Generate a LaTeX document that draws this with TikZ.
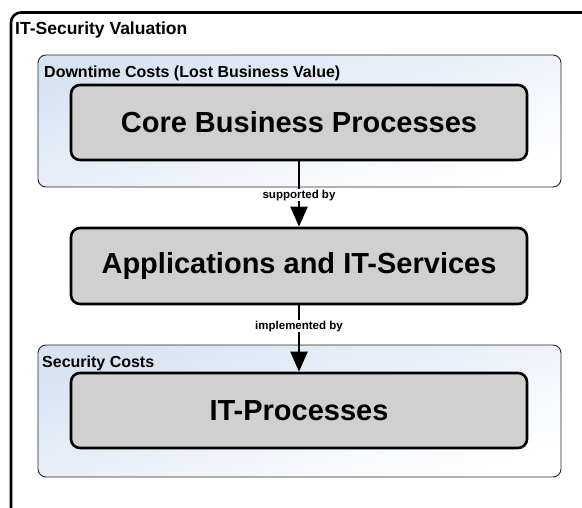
\documentclass[tikz,border=0pt]{standalone}
\usepackage{fontspec}
\setmainfont{Liberation Sans}
\usetikzlibrary{arrows.meta}
\definecolor{procgray}{HTML}{D0D0D0}
\definecolor{zonetint}{HTML}{D8E3F2}
\begin{document}
\begin{tikzpicture}[x=1pt, y=-1pt,
  frame/.style={draw=black, line width=2.6pt, rounded corners=10pt, fill=white},
  zone/.style={draw=black!85, line width=0.9pt, rounded corners=8pt,
    shading=axis, top color=zonetint, bottom color=white, shading angle=18,
    inner sep=0pt},
  proc/.style={draw=black, line width=2.6pt, rounded corners=9pt, fill=procgray,
    minimum width=456pt, inner sep=0pt,
    font=\fontsize{29}{34}\selectfont\bfseries},
  heading/.style={anchor=base west, inner sep=0pt, font=\fontsize{16}{19}\selectfont\bfseries},
  flowlabel/.style={anchor=base, fill=white, inner sep=0.8pt,
    font=\fontsize{11.5}{13}\selectfont\bfseries},
  flow/.style={draw=black, line width=2pt,
    -{Triangle[width=17pt, length=20pt]}}
]
\useasboundingbox (0,0) rectangle (582,507);
\clip (0,0) rectangle (582,507);

% outer frame, running past the right and bottom edges
\draw[frame] (11,12.5) rectangle (620,540);
\node[anchor=base west, inner sep=0pt, font=\fontsize{17.5}{20}\selectfont\bfseries]
  (title) at (15,34) {IT-Security Valuation};

% cost zones
\node[zone, minimum width=523pt, minimum height=132pt] (downzone) at (299.5,121) {};
\node[heading] (downlbl) at (44,77) {Downtime Costs (Lost Business Value)};
\node[zone, minimum width=523pt, minimum height=132pt] (seczone) at (299.5,411) {};
\node[heading] (seclbl) at (42,367) {Security Costs};

% process layers
\node[proc, minimum height=75pt] (core) at (299,122.5) {Core Business Processes};
\node[proc, minimum height=76pt] (app) at (299,266) {Applications and IT-Services};
\node[proc, minimum height=75pt] (itproc) at (299,410.5) {IT-Processes};

% dependencies
\draw[flow] (core.south) -- (app.north);
\draw[flow] (app.south) -- (itproc.north);
\node[flowlabel] (suplbl) at (299,198) {supported by};
\node[flowlabel] (implbl) at (299,329) {implemented by};
\end{tikzpicture}
\end{document}
